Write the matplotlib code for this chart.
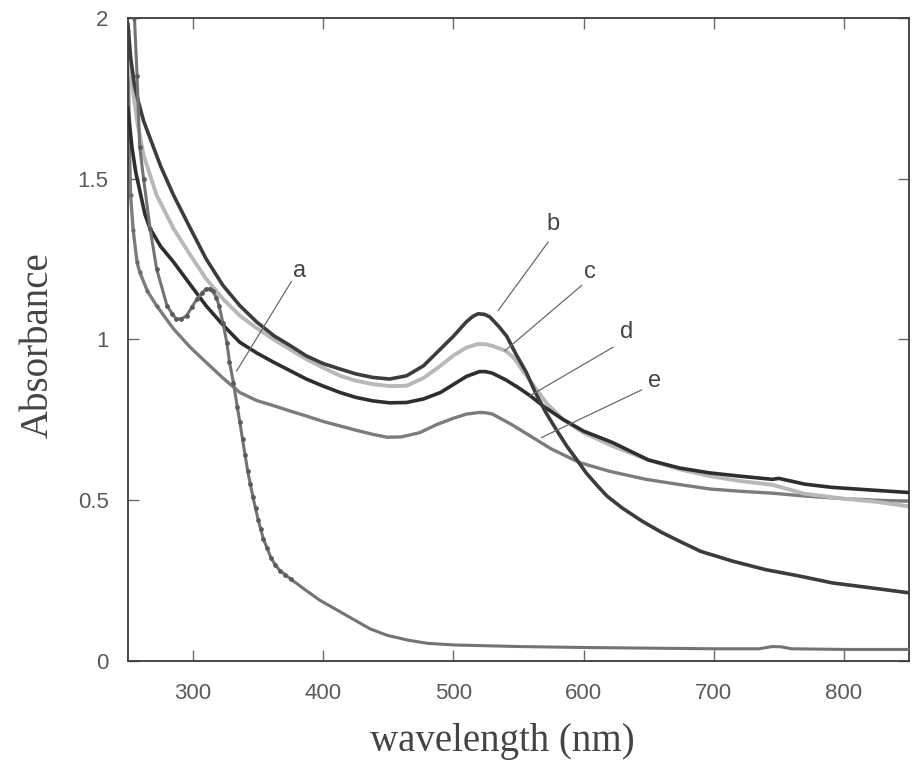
import matplotlib
matplotlib.use("Agg")
import matplotlib.pyplot as plt

plt.rcParams.update({
    "font.family": "Liberation Sans",
    "axes.edgecolor": "#3a3a3a",
    "xtick.color": "#555555",
    "ytick.color": "#555555",
})

# UV-vis spectra, wavelength (nm) vs absorbance
wl_a = [254, 255, 257, 259, 262, 267, 272, 280, 284, 287, 291, 295, 299, 303,
        307, 310, 313, 315, 318, 320, 323, 326, 328, 331, 334, 336, 338, 340,
        342, 344, 346, 348, 350, 352, 354, 357, 360, 363, 367, 371, 375, 385,
        397, 410, 423, 436, 449, 465, 480, 500, 550, 600, 650, 700, 735, 745,
        752, 760, 800, 850]
abs_a = [2.05, 2.0, 1.82, 1.60, 1.50, 1.345, 1.22, 1.105, 1.08, 1.064, 1.064,
         1.074, 1.10, 1.126, 1.145, 1.157, 1.158, 1.152, 1.13, 1.105, 1.05,
         0.99, 0.93, 0.866, 0.79, 0.742, 0.69, 0.64, 0.59, 0.55, 0.51, 0.475,
         0.44, 0.41, 0.38, 0.35, 0.32, 0.30, 0.28, 0.268, 0.255, 0.225, 0.19,
         0.16, 0.13, 0.10, 0.08, 0.065, 0.055, 0.05, 0.045, 0.042, 0.04, 0.038,
         0.038, 0.045, 0.044, 0.038, 0.036, 0.036]

wl_b = [250, 252, 255, 258, 262, 267, 275, 285, 298, 310, 323, 336, 349, 362,
        375, 387, 400, 413, 425, 438, 451, 464, 477, 490, 500, 510, 515, 519,
        524, 528, 535, 541, 548, 556, 563, 571, 579, 587, 595, 602, 610, 618,
        630, 645, 660, 675, 690, 715, 740, 765, 791, 820, 850]
abs_b = [1.98, 1.88, 1.79, 1.74, 1.68, 1.626, 1.54, 1.449, 1.345, 1.251, 1.168,
         1.105, 1.054, 1.012, 0.98, 0.949, 0.925, 0.908, 0.893, 0.882, 0.877,
         0.887, 0.918, 0.97, 1.01, 1.055, 1.072, 1.08, 1.078, 1.07, 1.04, 1.01,
         0.955, 0.898, 0.835, 0.773, 0.72, 0.669, 0.625, 0.585, 0.548, 0.513,
         0.475, 0.435, 0.40, 0.37, 0.341, 0.31, 0.284, 0.265, 0.243, 0.228,
         0.212]

wl_c = [250, 253, 257, 262, 272, 285, 298, 310, 323, 336, 349, 362, 375, 387,
        400, 413, 425, 438, 451, 464, 477, 490, 500, 510, 519, 525, 530, 540,
        546, 553, 561, 572, 584, 600, 622, 650, 674, 697, 720, 745, 770, 800,
        825, 850]
abs_c = [1.90, 1.80, 1.68, 1.573, 1.449, 1.345, 1.262, 1.189, 1.126, 1.074,
         1.035, 1.0, 0.968, 0.939, 0.912, 0.887, 0.872, 0.861, 0.855, 0.856,
         0.88, 0.918, 0.95, 0.975, 0.986, 0.985, 0.98, 0.965, 0.945, 0.905,
         0.86, 0.80, 0.752, 0.71, 0.669, 0.625, 0.596, 0.575, 0.56, 0.548,
         0.52, 0.505, 0.495, 0.481]

wl_d = [250, 253, 256, 263, 267, 275, 285, 298, 310, 323, 336, 349, 362, 375,
        387, 400, 413, 425, 438, 451, 464, 477, 490, 500, 510, 520, 525, 530,
        540, 550, 559, 570, 584, 600, 622, 650, 674, 697, 720, 745, 750, 770,
        791, 820, 850]
abs_d = [1.72, 1.60, 1.52, 1.39, 1.345, 1.29, 1.241, 1.17, 1.105, 1.045, 0.991,
         0.958, 0.929, 0.902, 0.877, 0.855, 0.835, 0.82, 0.809, 0.803, 0.804,
         0.815, 0.835, 0.86, 0.885, 0.90, 0.90, 0.895, 0.875, 0.85, 0.825,
         0.79, 0.752, 0.715, 0.68, 0.625, 0.60, 0.585, 0.575, 0.565, 0.568,
         0.55, 0.54, 0.532, 0.524]

wl_e = [250, 251, 252, 254, 257, 259, 265, 272, 285, 298, 310, 323, 336, 349,
        362, 375, 387, 400, 413, 425, 438, 449, 460, 474, 487, 500, 510, 520,
        525, 530, 545, 559, 575, 597, 620, 648, 675, 697, 720, 745, 770, 800,
        825, 850]
abs_e = [1.96, 1.62, 1.45, 1.34, 1.24, 1.21, 1.15, 1.105, 1.033, 0.975, 0.929,
         0.88, 0.835, 0.81, 0.794, 0.777, 0.762, 0.745, 0.731, 0.718, 0.705,
         0.696, 0.697, 0.71, 0.735, 0.755, 0.768, 0.773, 0.772, 0.768, 0.735,
         0.70, 0.66, 0.617, 0.59, 0.565, 0.548, 0.535, 0.528, 0.522, 0.513,
         0.505, 0.50, 0.497]

curve_names = ["a", "b", "c", "d", "e"]

# label text position and leader line (start near label, end on curve)
label_pos = {
    "a": (382, 1.214), "b": (576.7, 1.36), "c": (604.8, 1.21),
    "d": (633, 1.022), "e": (654.8, 0.871),
}
leader_lines = {
    "a": ((375.5, 1.18), (333.5, 0.902)),
    "b": ((572.8, 1.303), (534.4, 1.090)),
    "c": ((598.5, 1.168), (539.6, 0.965)),
    "d": ((622.7, 0.976), (558.8, 0.825)),
    "e": ((644.5, 0.843), (567.7, 0.695)),
}

fig = plt.figure(figsize=(9.14, 7.61), dpi=100)
ax = fig.add_axes([0.140, 0.1314, 0.8545, 0.845])

ax.plot(wl_e, abs_e, color="#7c7c7c", lw=2.4, marker="o", ms=2.0,
        mfc="#6a6a6a", mec="#6a6a6a", markevery=slice(0, 8), zorder=2)
ax.plot(wl_c, abs_c, color="#b8b8b8", lw=2.8, zorder=2)
ax.plot(wl_d, abs_d, color="#2e2e2e", lw=2.6, zorder=3)
ax.plot(wl_b, abs_b, color="#3c3c3c", lw=2.6, zorder=3)
# dense scan points show as dots along the steep parts of a
ax.plot(wl_a, abs_a, color="#737373", lw=2.2, marker="o", ms=2.4,
        mfc="#5a5a5a", mec="#5a5a5a", markevery=slice(0, 41), zorder=4)

for name in curve_names:
    (x0, y0), (x1, y1) = leader_lines[name]
    ax.plot([x0, x1], [y0, y1], color="#6a6a6a", lw=0.9, zorder=5)
    lx, ly = label_pos[name]
    ax.text(lx, ly, name, fontsize=17, color="#444444", ha="center",
            va="center", zorder=6)

ax.set_xlim(250, 850)
ax.set_ylim(0, 2)
ax.set_xticks([300, 400, 500, 600, 700, 800])
ax.set_yticks([0, 0.5, 1, 1.5, 2])
ax.set_yticklabels(["0", "0.5", "1", "1.5", "2"])
ax.tick_params(direction="in", length=8, width=1.0, top=True, right=True,
               labelsize=16, colors="#6a6a6a", labelcolor="#5a5a5a")
ax.tick_params(axis="x", pad=16)
ax.tick_params(axis="y", pad=14)
for sp in ax.spines.values():
    sp.set_linewidth(1.3)

fig.text(502 / 914, 1 - 742 / 761, "wavelength (nm)", fontsize=28,
         family="Liberation Serif", color="#444444", ha="center", va="center")
fig.text(38 / 914, 1 - 345 / 761, "Absorbance", fontsize=28,
         family="Liberation Serif", color="#444444", ha="center", va="center",
         rotation=90)

fig.savefig("out.png", dpi=100, facecolor="white")
